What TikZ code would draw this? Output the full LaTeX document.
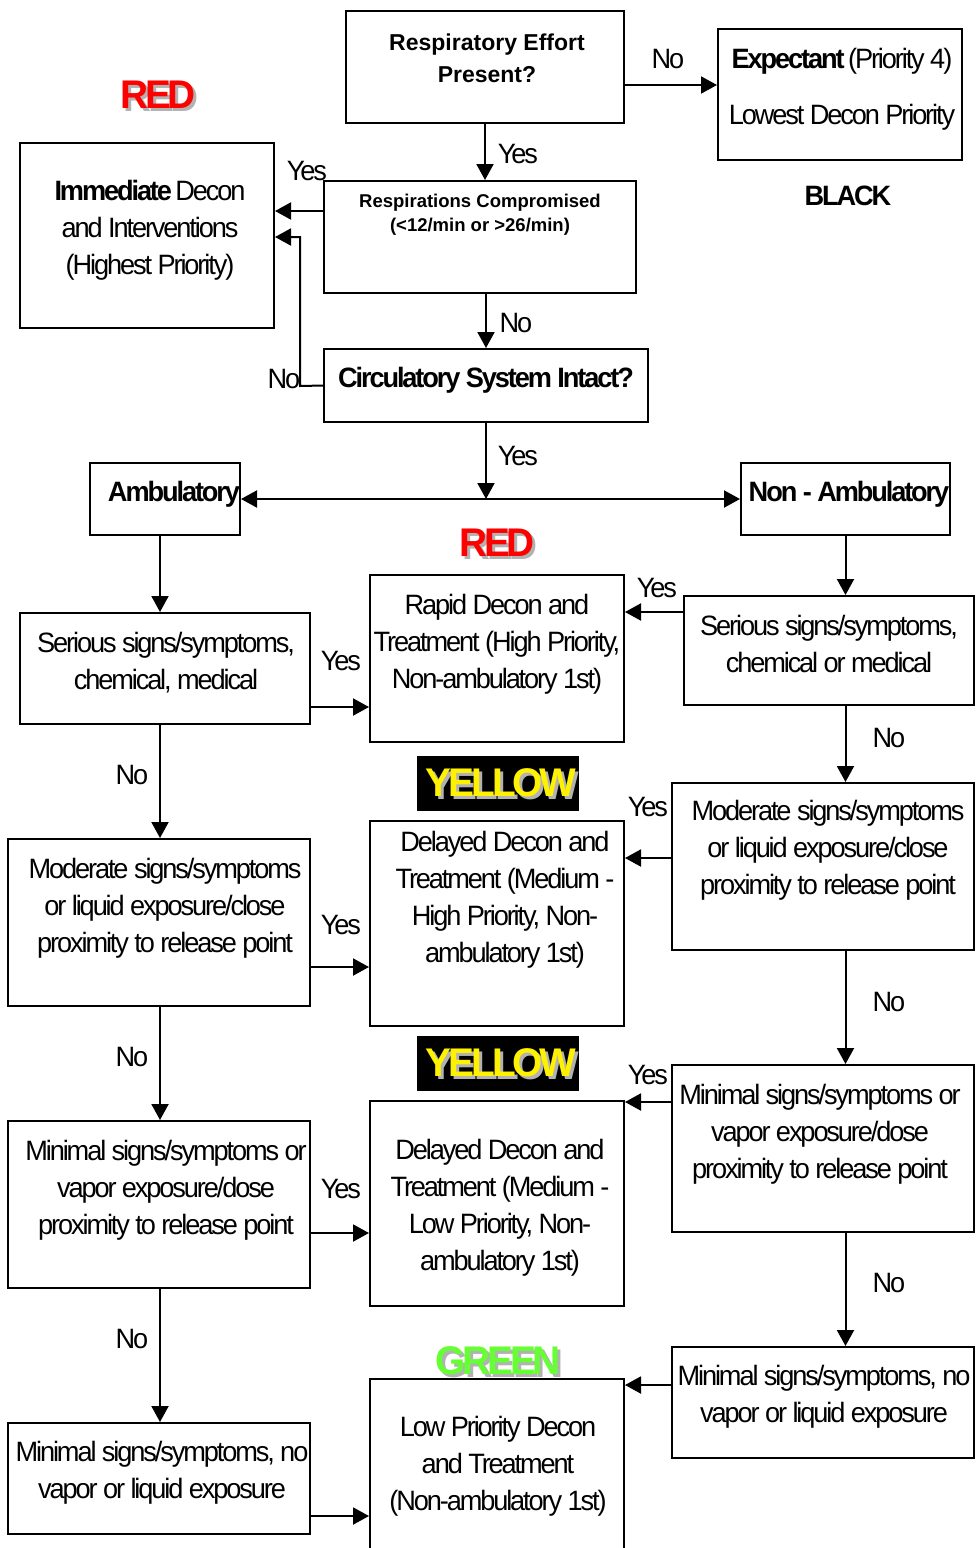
\documentclass[tikz,border=0pt]{standalone}
\usepackage{fontspec}
\setmainfont{Liberation Sans}
\newfontfamily\cond{Liberation Sans}[FakeStretch=0.97,LetterSpace=-7.5]
\usetikzlibrary{arrows.meta,calc}
\tikzset{
  box/.style={draw, line width=2pt, inner sep=0pt},
  txt/.style={font=\cond\fontsize{28}{37}\selectfont, align=center, inner sep=0pt},
  yn/.style={font=\cond\fontsize{28}{34}\selectfont, inner sep=0pt},
  tag/.style={font=\cond\bfseries\fontsize{40}{44}\selectfont, inner sep=0pt},
  shade/.style={tag, text=black!30},
  arr/.style={line width=2pt, -{Triangle[length=16pt,width=17pt]}},
}
\newcommand\mkbox[5]{\node[box, minimum width={#4-#2}, minimum height={#5-#3}] (#1) at ({(#2+#4)/2},{(#3+#5)/2}) {};}
\begin{document}
\begin{tikzpicture}[x=1pt,y=-1pt]
\useasboundingbox (0,0) rectangle (975,1548);
% boxes
\mkbox{re}{346}{11}{624}{123}
\mkbox{ex}{718}{29}{962}{160}
\mkbox{imm}{20}{143}{274}{328}
\mkbox{rc}{324}{181}{636}{293}
\mkbox{circ}{324}{349}{648}{422}
\mkbox{amb}{90}{463}{240}{535}
\mkbox{namb}{741}{463}{950}{535}
\mkbox{ls}{20}{613}{310}{724}
\mkbox{rap}{370}{575}{624}{742}
\mkbox{rs}{684}{596}{974}{705}
\mkbox{lm}{8}{839}{310}{1006}
\mkbox{da}{370}{821}{624}{1026}
\mkbox{rm}{672}{783}{974}{950}
\mkbox{lmin}{8}{1121}{310}{1288}
\mkbox{db}{370}{1101}{624}{1306}
\mkbox{rmin}{672}{1065}{974}{1232}
\mkbox{lmn}{8}{1423}{310}{1534}
\mkbox{low}{370}{1379}{624}{1575}
\mkbox{rmn}{672}{1347}{974}{1458}
% texts
\node[font=\bfseries\fontsize{23}{32}\selectfont, align=center, inner sep=0pt] (tre) at (487,58) {Respiratory Effort\\Present?};
\node[txt, align=center] (tex) at (842,89) {\textbf{Expectant} (Priority 4)\\[19pt]Lowest Decon Priority};
\node[font=\cond\bfseries\fontsize{28}{34}\selectfont, inner sep=0pt] (black) at (848,196) {BLACK};
\node[txt] (timm) at (150,230) {\textbf{Immediate} Decon\\and Interventions\\(Highest Priority)};
\node[font=\bfseries\fontsize{18.5}{24}\selectfont, align=center, inner sep=0pt] (trc) at (480,215) {Respirations Compromised\\(<12/min or >26/min)};
\node[txt, font=\cond\bfseries\fontsize{28}{34}\selectfont] (tcirc) at (486,380) {Circulatory System Intact?};
\node[txt, font=\cond\bfseries\fontsize{28}{34}\selectfont] (tamb) at (174,494) {Ambulatory};
\node[txt, font=\cond\bfseries\fontsize{28}{34}\selectfont] (tnamb) at (849,494) {Non - Ambulatory};
\node[txt] (tls) at (166,663) {Serious signs/symptoms,\\chemical, medical};
\node[txt] (trap) at (497,644) {Rapid Decon and\\Treatment (High Priority,\\Non-ambulatory 1st)};
\node[txt] (trs) at (829,644) {Serious signs/symptoms,\\chemical or medical};
\node[txt] (tlm) at (165,908) {Moderate signs/symptoms\\or liquid exposure/close\\proximity to release point};
\node[txt] (tda) at (505,900) {Delayed Decon and\\Treatment (Medium -\\High Priority, Non-\\ambulatory 1st)};
\node[txt] (trm) at (828,850) {Moderate signs/symptoms\\or liquid exposure/close\\proximity to release point};
\node[txt] (tlmin) at (166,1190) {Minimal signs/symptoms or\\vapor exposure/dose\\proximity to release point};
\node[txt] (tdb) at (500,1208) {Delayed Decon and\\Treatment (Medium -\\Low Priority, Non-\\ambulatory 1st)};
\node[txt] (trmin) at (820,1134) {Minimal signs/symptoms or\\vapor exposure/dose\\proximity to release point};
\node[txt] (tlmn) at (162,1473) {Minimal signs/symptoms, no\\vapor or liquid exposure};
\node[txt] (tlow) at (498,1466) {Low Priority Decon\\and Treatment\\(Non-ambulatory 1st)};
\node[txt] (trmn) at (824,1397) {Minimal signs/symptoms, no\\vapor or liquid exposure};
% colour tags
\node[shade] (reds1) at (161,98) {RED};
\node[tag, text=red] (red1) at (158,95) {RED};
\node[shade] (reds2) at (500,546) {RED};
\node[tag, text=red] (red2) at (497,543) {RED};
\node[fill=black, inner sep=0pt, minimum width=162, minimum height=55] (yb1) at (498,783.5) {};
\node[shade] (yels1) at (504,786) {YELLOW};
\node[tag, text=yellow] (yel1) at (501,783) {YELLOW};
\node[fill=black, inner sep=0pt, minimum width=162, minimum height=55] (yb2) at (498,1063.5) {};
\node[shade] (yels2) at (504,1066) {YELLOW};
\node[tag, text=yellow] (yel2) at (501,1063) {YELLOW};
\definecolor{grn}{RGB}{102,255,51}
\node[shade] (grns) at (501,1364) {GREEN};
\node[tag, text=grn] (grn) at (498,1361) {GREEN};
% connectors
\coordinate (jog) at (300,386);
\coordinate (split) at (486,499);
\draw[arr] (re.east |- 0,85) -- (ex.west |- 0,85);
\draw[arr] (re.south) -- (re.south |- rc.north);
\draw[arr] (rc.west |- 0,211) -- (imm.east |- 0,211);
\draw[arr] (rc.south -| circ.north) -- (circ.north);
\draw[arr] (circ.west) -- (jog) |- (imm.east |- 0,237);
\draw[arr] (circ.south) -- (split);
\draw[arr] (split) -- (amb.east |- split);
\draw[arr] (split) -- (namb.west |- split);
\draw[arr] (amb.south -| 160,0) -- (ls.north -| 160,0);
\draw[arr] (namb.south) -- (namb.south |- rs.north);
\draw[arr] (ls.east |- 0,707) -- (rap.west |- 0,707);
\draw[arr] (rs.west |- 0,612) -- (rap.east |- 0,612);
\draw[arr] (ls.south -| 160,0) -- (lm.north -| 160,0);
\draw[arr] (rs.south -| namb.south) -- (rm.north -| namb.south);
\draw[arr] (lm.east |- 0,967) -- (da.west |- 0,967);
\draw[arr] (rm.west |- 0,858) -- (da.east |- 0,858);
\draw[arr] (lm.south -| 160,0) -- (lmin.north -| 160,0);
\draw[arr] (rm.south -| namb.south) -- (rmin.north -| namb.south);
\draw[arr] (lmin.east |- 0,1233) -- (db.west |- 0,1233);
\draw[arr] (rmin.west |- 0,1102) -- (db.east |- 0,1102);
\draw[arr] (lmin.south -| 160,0) -- (lmn.north -| 160,0);
\draw[arr] (rmin.south -| namb.south) -- (rmn.north -| namb.south);
\draw[arr] (lmn.east |- 0,1516) -- (low.west |- 0,1516);
\draw[arr] (rmn.west |- 0,1385) -- (low.east |- 0,1385);
% connector labels
\node[yn] (n1) at (668,59) {No};
\node[yn] (y1) at (518,154) {Yes};
\node[yn] (y2) at (307,171) {Yes};
\node[yn] (n2) at (516,323) {No};
\node[yn] (n3) at (284,379) {No};
\node[yn] (y3) at (518,456) {Yes};
\node[yn] (y4) at (341,661) {Yes};
\node[yn] (y5) at (657,588) {Yes};
\node[yn] (n4) at (132,775) {No};
\node[yn] (n5) at (889,738) {No};
\node[yn] (y6) at (341,925) {Yes};
\node[yn] (y7) at (648,807) {Yes};
\node[yn] (n6) at (132,1057) {No};
\node[yn] (n7) at (889,1002) {No};
\node[yn] (y8) at (341,1189) {Yes};
\node[yn] (y9) at (648,1075) {Yes};
\node[yn] (n8) at (132,1339) {No};
\node[yn] (n9) at (889,1283) {No};
\end{tikzpicture}
\end{document}
